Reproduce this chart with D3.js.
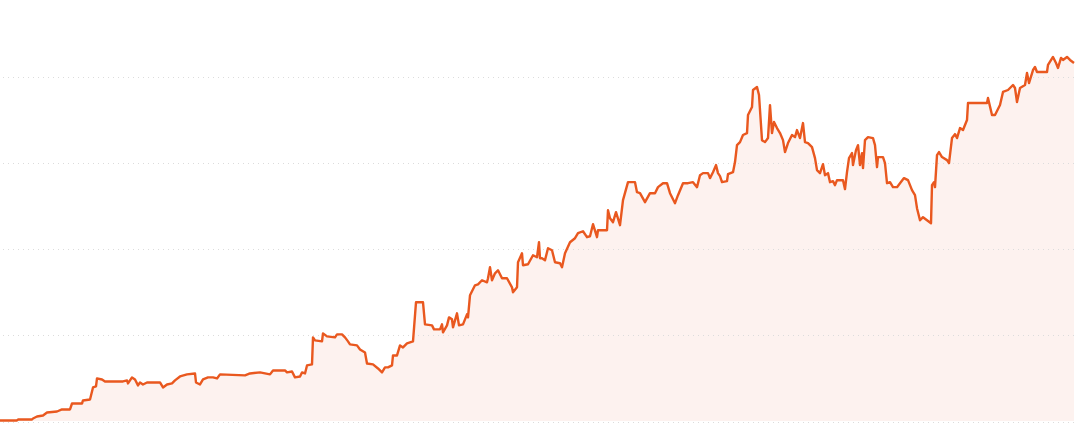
<!DOCTYPE html>
<html>
<head>
<meta charset="utf-8">
<script src="https://cdn.jsdelivr.net/npm/d3@7"></script>
<style>
  html, body { margin: 0; padding: 0; background: #fff; }
  svg { display: block; }
</style>
</head>
<body>
<svg id="chart" width="1079" height="438"></svg>
<script>
// day offsets and values
const days = [
  0, 17, 18, 32, 33, 37, 43, 47, 57, 62, 70, 72, 82, 83, 90, 93, 96, 97, 102, 105,
  123, 127, 128, 132, 135, 138, 140, 143, 147, 160, 163, 167, 172, 175, 180, 187, 195, 196, 200, 203,
  208, 213, 217, 220, 245, 250, 260, 270, 273, 285, 287, 292, 295, 300, 302, 305, 307, 312, 313, 315,
  322, 323, 327, 335, 337, 342, 345, 348, 350, 357, 360, 365, 367, 373, 378, 382, 385, 388, 392, 393,
  397, 400, 403, 407, 413, 416, 423, 425, 432, 434, 440, 442, 443, 447, 449, 452, 453, 457, 459, 463,
  467, 468, 470, 475, 478, 482, 487, 488, 490, 492, 495, 498, 502, 507, 512, 513, 517, 518, 522, 523,
  528, 533, 537, 539, 540, 542, 545, 548, 552, 555, 560, 562, 565, 570, 575, 578, 583, 587, 590, 593,
  597, 598, 607, 608, 610, 613, 616, 620, 623, 628, 635, 637, 640, 645, 650, 655, 658, 663, 667, 670,
  675, 678, 683, 688, 693, 697, 700, 703, 708, 710, 713, 716, 718, 720, 722, 727, 728, 733, 735, 737,
  740, 743, 747, 748, 752, 753, 757, 759, 762, 765, 768, 770, 772, 774, 777, 780, 783, 785, 788, 792,
  795, 797, 800, 803, 805, 808, 812, 815, 817, 820, 823, 825, 828, 830, 833, 835, 837, 843, 845, 847,
  849, 852, 853, 856, 858, 860, 862, 863, 865, 868, 873, 875, 877, 878, 883, 885, 887, 890, 893, 897,
  900, 904, 908, 912, 915, 917, 920, 923, 927, 931, 932, 934, 935, 937, 939, 942, 947, 949, 952, 955,
  957, 960, 963, 967, 968, 987, 988, 992, 995, 1000, 1003, 1008, 1013, 1015, 1017, 1020, 1025, 1027, 1029, 1033,
  1035, 1037, 1047, 1048, 1053, 1056, 1058, 1061, 1063, 1067, 1070, 1074
];
const values = [
  1.2, 1.2, 2.3, 2.3, 3.5, 5.8, 7.0, 10.5, 11.6, 14.0, 14.0, 20.9, 20.9, 24.4, 25.6, 39.5, 40.7, 50.0, 48.8, 46.5,
  46.5, 47.7, 44.2, 51.2, 48.8, 41.9, 45.3, 43.0, 45.3, 45.3, 39.5, 43.0, 44.2, 47.7, 52.3, 54.7, 55.8, 45.3, 43.0, 48.8,
  51.2, 51.2, 50.0, 54.7, 53.5, 55.8, 57.0, 54.7, 59.3, 59.3, 57.0, 58.1, 51.2, 52.3, 57.0, 55.8, 65.1, 66.3, 97.7, 94.2,
  93.0, 102.3, 98.8, 97.7, 101.2, 101.2, 97.7, 93.0, 89.5, 88.4, 83.7, 80.2, 67.4, 66.3, 61.6, 57.0, 62.8, 62.8, 65.1, 76.7,
  76.7, 88.4, 86.0, 90.7, 93.0, 138.4, 138.4, 112.8, 111.6, 107.0, 107.0, 112.8, 103.5, 111.6, 120.9, 118.6, 109.3, 125.6, 111.6, 112.8,
  124.4, 120.9, 146.5, 158.1, 159.3, 164.0, 161.6, 166.3, 179.1, 164.0, 172.1, 175.6, 166.3, 166.3, 155.8, 150.0, 155.8, 184.9, 195.3, 181.4,
  182.6, 193.0, 190.7, 208.1, 189.5, 189.5, 187.2, 201.2, 198.8, 184.9, 183.7, 179.1, 195.3, 208.1, 212.8, 218.6, 220.9, 214.0, 215.1, 229.1,
  214.0, 222.1, 222.1, 245.3, 236.0, 231.4, 243.0, 227.9, 257.0, 277.9, 277.9, 266.3, 265.1, 254.7, 265.1, 265.1, 272.1, 276.7, 276.7, 265.1,
  253.5, 262.8, 276.7, 276.7, 277.9, 272.1, 286.0, 288.4, 288.4, 282.6, 289.5, 297.7, 288.4, 284.9, 277.9, 279.1, 287.2, 289.5, 301.2, 320.9,
  324.4, 332.6, 334.9, 355.8, 365.1, 384.9, 388.4, 379.1, 326.7, 324.4, 329.1, 367.4, 334.9, 347.7, 340.7, 334.9, 326.7, 312.8, 323.3, 332.6,
  330.2, 338.4, 329.1, 346.5, 324.4, 323.3, 318.6, 305.8, 291.9, 288.4, 298.8, 286.0, 288.4, 277.9, 279.1, 274.4, 280.2, 280.2, 269.8, 289.5,
  305.8, 311.6, 297.7, 315.1, 320.9, 297.7, 311.6, 294.2, 326.7, 330.2, 329.1, 320.9, 295.3, 307.0, 307.0, 300.0, 276.7, 277.9, 272.1, 272.1,
  276.7, 282.6, 280.2, 268.6, 262.8, 247.7, 233.7, 237.2, 233.7, 230.2, 274.4, 277.9, 272.1, 309.3, 312.8, 307.0, 303.5, 300.0, 329.1, 333.7,
  329.1, 340.7, 338.4, 350.0, 369.8, 369.8, 375.6, 355.8, 355.8, 367.4, 382.6, 384.9, 390.7, 387.2, 370.9, 387.2, 390.7, 404.7, 393.0, 408.1,
  411.6, 405.8, 405.8, 414.0, 423.3, 416.3, 410.5, 422.1, 419.8, 423.3, 419.8, 416.3
];
const gridTicks = [0, 100, 200, 300, 400];

const data = days.map((d, i) => ({ day: d, value: values[i] }));

const svg = d3.select('#chart');

const x = d3.scaleLinear().domain([0, 1074]).range([0, 1074]);
const y = d3.scaleLinear().domain([0, 400]).range([421.5, 77]);

// fill under the line
const area = d3.area()
  .x(d => x(d.day))
  .y0(y(0) - 0.5)
  .y1(d => y(d.value));

svg.append('path')
  .datum(data)
  .attr('d', area)
  .attr('fill', '#fdf2ef');

// dotted horizontal grid
svg.append('g')
  .selectAll('line')
  .data(gridTicks)
  .enter()
  .append('line')
  .attr('x1', 3)
  .attr('x2', 1075)
  .attr('y1', d => Math.round(y(d)) + 0.5)
  .attr('y2', d => Math.round(y(d)) + 0.5)
  .attr('stroke', '#dcdcdc')
  .attr('stroke-width', 1)
  .attr('stroke-dasharray', '1,4');

const line = d3.line()
  .x(d => x(d.day))
  .y(d => y(d.value));

svg.append('path')
  .datum(data)
  .attr('d', line)
  .attr('fill', 'none')
  .attr('stroke', '#e9581f')
  .attr('stroke-width', 2.4)
  .attr('stroke-linejoin', 'round');
</script>
</body>
</html>
